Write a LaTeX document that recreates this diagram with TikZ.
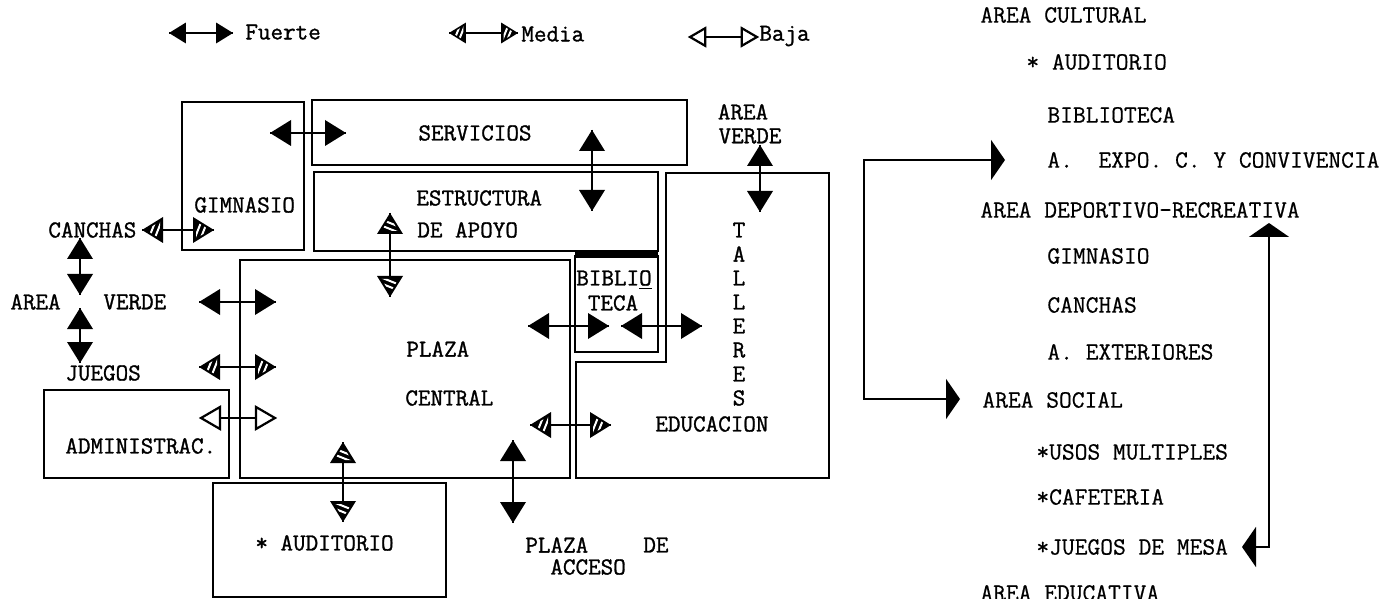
\documentclass[tikz,border=0pt]{standalone}
\usepackage{fontspec}
\newfontfamily\twa[FakeBold=1.2]{Latin Modern Mono}
\newfontfamily\twb[FakeBold=0.6]{Latin Modern Mono}
\usetikzlibrary{arrows.meta}
\newcommand\hconn[4]{\draw[shaft] (#2,#4) -- (#3,#4); \pic[rotate=180] at (#2,#4) {#1head}; \pic at (#3,#4) {#1head};}
\newcommand\vconn[4]{\draw[shaft] (#2,#3) -- (#2,#4); \pic[rotate=90] at (#2,#3) {#1head}; \pic[rotate=-90] at (#2,#4) {#1head};}
\begin{document}
\begin{tikzpicture}[x=0.5pt,y=-0.5pt,
  box/.style={draw,line width=1.3pt,line join=miter},
  shaft/.style={line width=1.1pt},
  lbl/.style={font=\twa\fontsize{12.2}{13}\selectfont, inner sep=0pt},
  lst/.style={font=\twb\fontsize{12.4}{14}\selectfont, inner sep=0pt, anchor=west},
  big/.style={line width=1.1pt, {Triangle[length=7pt,width=20pt]}-{Triangle[length=7pt,width=20pt]}},
  pics/fhead/.style={code={\fill (0,0)--(-21,-13)--(-21,13)--cycle;}},
  pics/bhead/.style={code={\filldraw[fill=white,line width=1.1pt,line join=miter] (0,0)--(-19,-11)--(-19,11)--cycle;}},
  pics/mhead/.style={code={
     \fill (0,0)--(-21,-13)--(-21,13)--cycle;
     \begin{scope}
       \clip (-4,0)--(-18,-8.5)--(-18,8.5)--cycle;
       \draw[white,line width=1pt] (-20,10)--(-12,-10) (-14,10)--(-6,-10);
     \end{scope}}},
]
\useasboundingbox (0,0) rectangle (1394,599);

% ---------- legend ----------
\begin{scope}[every pic/.style={scale=0.8}]
\hconn{f}{169}{233}{33}
\hconn{m}{449}{518}{33}
\hconn{b}{690}{757}{37}
\end{scope}
\node[lbl,anchor=west] (lf) at (245,32) {Fuerte};
\node[lbl,anchor=west] (lm) at (521,34) {Media};
\node[lbl,anchor=west] (lb) at (759,36) {Baja};

% ---------- boxes ----------
\draw[box] (182,102) rectangle (304,250);   % gimnasio
\draw[box] (312,100) rectangle (687,165);   % servicios
\draw[box] (314,172) rectangle (658,251);   % estructura
\draw[box] (240,260) rectangle (570,478);   % plaza central
\draw[box] (44,390) rectangle (229,478);    % administracion
\draw[box] (213,483) rectangle (446,597);   % auditorio
\draw[box] (575,256) rectangle (658,352);   % biblioteca
\draw[line width=2.6pt] (575,255) -- (658,255);
\draw[box] (666,173) -- (829,173) -- (829,478) -- (576,478) -- (576,362) -- (666,362) -- cycle; % talleres

% ---------- labels ----------
\node[lbl] (serv) at (475,133) {SERVICIOS};
\node[lbl,anchor=west] (gim) at (194,205) {GIMNASIO};
\node[lbl,anchor=west] (est) at (416,198) {ESTRUCTURA};
\node[lbl,anchor=west] (apo) at (417,230) {DE APOYO};
\node[lbl,anchor=west] (can) at (48,230) {CANCHAS};
\node[lbl] (bib1) at (614,280) {BIBLI\underline{O}};
\node[lbl] (bib2) at (613,303) {TECA};
\node[lbl] (avr1) at (743,112) {AREA};
\node[lbl] (avr2) at (750,136) {VERDE};
\foreach \l [count=\i from 0] in {T,A,L,L,E,R,E,S}
  \node[lbl] (tal\i) at (739,230+24*\i) {\l};
\node[lbl,anchor=west] (edu) at (655,424) {EDUCACION};
\node[lbl,anchor=west] (av1) at (10,302) {AREA};
\node[lbl,anchor=west] (av2) at (103,302) {VERDE};
\node[lbl,anchor=west] (jue) at (65,373) {JUEGOS};
\node[lbl,anchor=west] (adm) at (65,446) {ADMINISTRAC.};
\node[lbl,anchor=west] (pl1) at (406,349) {PLAZA};
\node[lbl,anchor=west] (pl2) at (405,398) {CENTRAL};
\node[lbl,anchor=west] (aud) at (255,543) {* AUDITORIO};
\node[lbl,anchor=west] (pa1) at (525,545) {PLAZA};
\node[lbl,anchor=west] (pa2) at (643,545) {DE};
\node[lbl,anchor=west] (pa3) at (550,567) {ACCESO};

% ---------- connectors ----------
\hconn{f}{270}{346}{133}   % gimnasio - servicios
\vconn{f}{592}{130}{211}   % servicios - estructura
\hconn{m}{142}{214}{230}   % canchas - gimnasio
\vconn{m}{390}{213}{297}   % estructura - plaza
\vconn{f}{80}{238}{295}    % canchas - area verde
\vconn{f}{80}{308}{363}    % area verde - juegos
\hconn{f}{199}{276}{302}   % area verde - plaza
\hconn{m}{199}{276}{367}   % juegos - plaza
\hconn{b}{201}{275}{418}   % administracion - plaza
\vconn{m}{343}{442}{522}   % plaza - auditorio
\vconn{f}{513}{440}{523}   % plaza - plaza de acceso
\hconn{f}{528}{609}{326}   % plaza - biblioteca
\hconn{f}{621}{702}{326}   % biblioteca - talleres
\hconn{m}{530}{611}{425}   % plaza - educacion
\vconn{f}{760}{145}{212}   % area verde - talleres

% ---------- right list ----------
\node[lst] (r1) at (980,15) {AREA CULTURAL};
\node[lst] (r2) at (1026,62) {* AUDITORIO};
\node[lst] (r3) at (1047,115) {BIBLIOTECA};
\node[lst] (r4) at (1047,160) {A.~~EXPO. C. Y CONVIVENCIA};
\node[lst] (r5) at (980,210) {AREA DEPORTIVO-RECREATIVA};
\node[lst] (r6) at (1047,256) {GIMNASIO};
\node[lst] (r7) at (1047,305) {CANCHAS};
\node[lst] (r8) at (1047,352) {A. EXTERIORES};
\node[lst] (r9) at (982,400) {AREA SOCIAL};
\node[lst] (r10) at (1036,452) {*USOS MULTIPLES};
\node[lst] (r11) at (1036,497) {*CAFETERIA};
\node[lst] (r12) at (1036,547) {*JUEGOS DE MESA};
\node[lst] (r13) at (980,593) {AREA EDUCATIVA};

\coordinate (b1) at (1005,160);
\coordinate (b2) at (960,399);
\draw[big] (b1) -- (864,160) -- (864,399) -- (b2);
\coordinate (c1) at (1269,223);
\coordinate (c2) at (1242,547);
\draw[big] (c1) -- (1269,547) -- (c2);
\end{tikzpicture}
\end{document}
